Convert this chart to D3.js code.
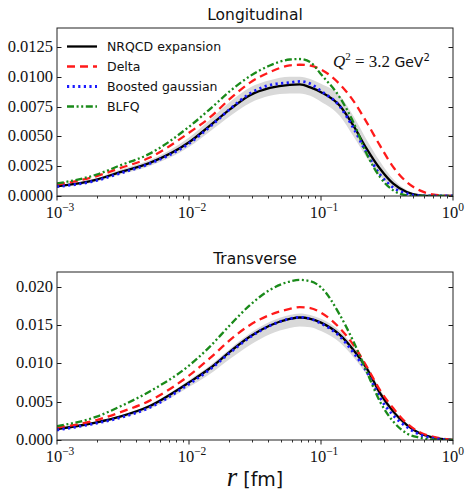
<!DOCTYPE html>
<html>
<head>
<meta charset="utf-8">
<script src="https://cdn.jsdelivr.net/npm/d3@7"></script>
<style>
  body { margin: 0; background: #fff; }
  svg text { fill: #111; }
  .num, .serif { font-family: "Liberation Serif", "Times New Roman", serif; }
  .num { font-size: 16.5px; }
  .sans { font-family: "DejaVu Sans", sans-serif; }
</style>
</head>
<body>
<div id="chart-area"></div>
<script>
var width = 465,
    height = 492;

var rVals = [0.001, 0.002, 0.003, 0.005, 0.01, 0.0144, 0.0205, 0.029, 0.041, 0.058, 0.069,
             0.083, 0.1, 0.139, 0.176, 0.222, 0.28, 0.353, 0.446, 0.56, 0.7, 1.0];

// Longitudinal
var longNrqcd = [0.00081, 0.00137, 0.0020, 0.00275, 0.0045, 0.00589, 0.00728, 0.00845, 0.00906, 0.00932, 0.00935,
                 0.00910, 0.0087, 0.00756, 0.00589, 0.00395, 0.00228, 0.00103, 0.00033, 0.00006, 0.0, 0.0];
var longDelta = [0.00095, 0.00167, 0.00233, 0.0032, 0.0053, 0.00658, 0.00816, 0.0095, 0.01039, 0.01094, 0.0110,
                 0.01092, 0.0106, 0.00936, 0.00797, 0.00617, 0.00422, 0.00242, 0.00117, 0.00047, 0.00014, 0.0];
var longBoosted = [0.00078, 0.0013, 0.0019, 0.0027, 0.0044, 0.0058, 0.0073, 0.0086, 0.0093, 0.0095, 0.0096,
                   0.0094, 0.0088, 0.0075, 0.0057, 0.0036, 0.0018, 0.0007, 0.0002, 0.00003, 0.0, 0.0];
var longBlfq = [0.00105, 0.0018, 0.00256, 0.00353, 0.0058, 0.00728, 0.0088, 0.01005, 0.01094, 0.01144, 0.01148,
                0.01122, 0.0102, 0.00825, 0.00617, 0.00353, 0.00158, 0.00047, 0.00006, 0.0, 0.0, 0.0];
var longBandLo = [0.00075, 0.0012, 0.0018, 0.0025, 0.0041, 0.0054, 0.0067, 0.0078, 0.0084, 0.0086, 0.0086,
                  0.0084, 0.0079, 0.0067, 0.0050, 0.0032, 0.0017, 0.0007, 0.0002, 0.00003, 0.0, 0.0];
var longBandHi = [0.00088, 0.0015, 0.0022, 0.0030, 0.0049, 0.0064, 0.0079, 0.0091, 0.0097, 0.0100, 0.0100,
                  0.0098, 0.0094, 0.0084, 0.0067, 0.0047, 0.0029, 0.0014, 0.0005, 0.0001, 0.0, 0.0];

// Transverse
var tranNrqcd = [0.00143, 0.00231, 0.00305, 0.0044, 0.0075, 0.00935, 0.01153, 0.01349, 0.01492, 0.01578, 0.01597,
                 0.0158, 0.0153, 0.0137, 0.01174, 0.00935, 0.0061, 0.0037, 0.00196, 0.00087, 0.00035, 0.0];
var tranDelta = [0.00162, 0.0026, 0.0036, 0.0051, 0.0084, 0.01066, 0.01305, 0.0150, 0.0163, 0.01709, 0.01731,
                 0.0172, 0.0166, 0.01457, 0.0124, 0.00957, 0.0065, 0.00413, 0.00218, 0.0010, 0.00044, 0.0];
var tranBoosted = [0.0013, 0.0022, 0.0029, 0.0042, 0.0073, 0.0092, 0.0114, 0.0134, 0.0149, 0.0158, 0.0160,
                   0.0158, 0.0152, 0.0135, 0.0114, 0.0089, 0.0055, 0.0032, 0.0017, 0.0007, 0.00025, 0.0];
var tranBlfq = [0.0018, 0.00305, 0.00436, 0.0063, 0.0097, 0.01218, 0.0150, 0.0176, 0.01957, 0.02066, 0.02087,
                0.0207, 0.0199, 0.0163, 0.01284, 0.0089, 0.0050, 0.0024, 0.00087, 0.0003, 0.00005, 0.0];
var tranBandLo = [0.0013, 0.0021, 0.0028, 0.0040, 0.0069, 0.0086, 0.0106, 0.0124, 0.0138, 0.0146, 0.0148,
                  0.0147, 0.0142, 0.0127, 0.0108, 0.0085, 0.0055, 0.0033, 0.0017, 0.0007, 0.00025, 0.0];
var tranBandHi = [0.0015, 0.0024, 0.0032, 0.0046, 0.0078, 0.0097, 0.0119, 0.0139, 0.0154, 0.0163, 0.0165,
                  0.0163, 0.0158, 0.0142, 0.0122, 0.0098, 0.0066, 0.0040, 0.0022, 0.0010, 0.0004, 0.0];

var seriesNames = ["NRQCD expansion", "Delta", "Boosted gaussian", "BLFQ"];
var longTicks = [0, 0.0025, 0.005, 0.0075, 0.01, 0.0125];
var tranTicks = [0, 0.005, 0.01, 0.015, 0.02];
var xTickExp = [-3, -2, -1, 0];

var styles = [
  { color: "#000000", dash: null, w: 2.3 },
  { color: "#ff1a1a", dash: "8,5", w: 2.3 },
  { color: "#1a1aff", dash: "2.2,3.4", w: 2.8 },
  { color: "#1a8a1a", dash: "7,2.6,2,2.6,2,2.6", w: 2.3 }
];

var svg = d3.select("#chart-area").append("svg")
    .attr("width", width)
    .attr("height", height);

var x0 = 57, x1 = 453;

function drawPanel(o) {
  var g = svg.append("g");
  var x = d3.scaleLog().domain([1e-3, 1]).range([x0, x1]);
  var y = d3.scaleLinear().domain([0, o.ymax]).range([o.bottom, o.top]);

  var clipId = "clip" + o.id;
  svg.append("clipPath").attr("id", clipId)
    .append("rect").attr("x", x0).attr("y", o.top)
    .attr("width", x1 - x0).attr("height", o.bottom - o.top);

  var plot = g.append("g").attr("clip-path", "url(#" + clipId + ")");

  var band = d3.area()
      .x(function(d, i) { return x(rVals[i]); })
      .y0(function(d, i) { return y(o.lo[i]); })
      .y1(function(d, i) { return y(o.hi[i]); })
      .curve(d3.curveMonotoneX);
  plot.append("path").datum(o.lo).attr("d", band).attr("fill", "#d9d9d9");

  var line = d3.line()
      .x(function(d, i) { return x(rVals[i]); })
      .y(function(d) { return y(d); })
      .curve(d3.curveMonotoneX);

  o.series.forEach(function(s, k) {
    plot.append("path").datum(s)
      .attr("d", line)
      .attr("fill", "none")
      .attr("stroke", styles[k].color)
      .attr("stroke-width", styles[k].w)
      .attr("stroke-dasharray", styles[k].dash);
  });

  // y axis ticks (left and right, inward) and labels
  o.yticks.forEach(function(t) {
    var yy = Math.round(y(t)) + 0.5;
    g.append("line").attr("x1", x0).attr("x2", x0 + 4.5).attr("y1", yy).attr("y2", yy)
      .attr("stroke", "#000").attr("stroke-width", 0.9);
    g.append("line").attr("x1", x1).attr("x2", x1 - 4.5).attr("y1", yy).attr("y2", yy)
      .attr("stroke", "#000").attr("stroke-width", 0.9);
    g.append("text").attr("class", "num")
      .attr("x", x0 - 4).attr("y", y(t) + 5)
      .attr("text-anchor", "end")
      .text(t.toFixed(o.dec));
  });

  // x axis ticks, major + minor (outward)
  for (var e = -3; e < 0; e++) {
    for (var m = 2; m <= 9; m++) {
      var xm = Math.round(x(m * Math.pow(10, e))) + 0.5;
      g.append("line").attr("x1", xm).attr("x2", xm).attr("y1", o.bottom).attr("y2", o.bottom + 2.5)
        .attr("stroke", "#000").attr("stroke-width", 0.8);
    }
  }
  xTickExp.forEach(function(e) {
    var xx = x(Math.pow(10, e));
    g.append("line").attr("x1", xx).attr("x2", xx).attr("y1", o.bottom).attr("y2", o.bottom + 4.5)
      .attr("stroke", "#000").attr("stroke-width", 0.9);
    // last label sits against the right edge of the window
    var tx = g.append("text").attr("class", "num")
      .attr("x", e === 0 ? width - 1 : xx + 3).attr("y", o.bottom + 22)
      .attr("text-anchor", e === 0 ? "end" : "middle");
    tx.append("tspan").text("10");
    tx.append("tspan").attr("dy", -7).attr("font-size", "11.5px")
      .text(e < 0 ? "\u2212" + (-e) : String(e));
  });

  // frame
  g.append("rect").attr("x", x0).attr("y", o.top)
    .attr("width", x1 - x0).attr("height", o.bottom - o.top)
    .attr("fill", "none").attr("stroke", "#222").attr("stroke-width", 1);

  // title
  svg.append("text").attr("class", "sans")
    .attr("x", (x0 + x1) / 2).attr("y", o.top - 8)
    .attr("text-anchor", "middle")
    .attr("font-size", "15.5px")
    .text(o.title);

  return { x: x, y: y };
}

drawPanel({ id: 1, top: 28, bottom: 196, ymax: 0.01408, dec: 4, yticks: longTicks, title: "Longitudinal",
  series: [longNrqcd, longDelta, longBoosted, longBlfq], lo: longBandLo, hi: longBandHi });
drawPanel({ id: 2, top: 272, bottom: 440, ymax: 0.0219, dec: 3, yticks: tranTicks, title: "Transverse",
  series: [tranNrqcd, tranDelta, tranBoosted, tranBlfq], lo: tranBandLo, hi: tranBandHi });

// legend
var legend = svg.append("g");
seriesNames.forEach(function(name, k) {
  var ly = 46.5 + k * 20;
  legend.append("line").attr("x1", 67).attr("x2", 97).attr("y1", ly).attr("y2", ly)
    .attr("stroke", styles[k].color).attr("stroke-width", styles[k].w)
    .attr("stroke-dasharray", styles[k].dash);
  legend.append("text").attr("class", "sans")
    .attr("x", 107).attr("y", ly + 4.5)
    .attr("font-size", "12.5px")
    .text(name);
});

// Q^2 annotation
var q = svg.append("text").attr("x", 333).attr("y", 67).attr("font-size", "17px");
q.append("tspan").attr("class", "serif").attr("font-style", "italic").text("Q");
q.append("tspan").attr("class", "serif").attr("font-size", "11px").attr("dy", -7).text("2");
q.append("tspan").attr("class", "serif").attr("dy", 7).text(" = 3.2 ");
q.append("tspan").attr("class", "sans").attr("font-size", "14px").text("GeV");
q.append("tspan").attr("class", "sans").attr("font-size", "10px").attr("dy", -6).text("2");

// x label
var xl = svg.append("text").attr("x", 255).attr("y", 486).attr("text-anchor", "middle");
xl.append("tspan").attr("class", "serif").attr("font-style", "italic")
  .attr("font-size", "27px").text("r");
xl.append("tspan").attr("class", "sans").attr("font-size", "19px").text("  [fm]");
</script>
</body>
</html>
